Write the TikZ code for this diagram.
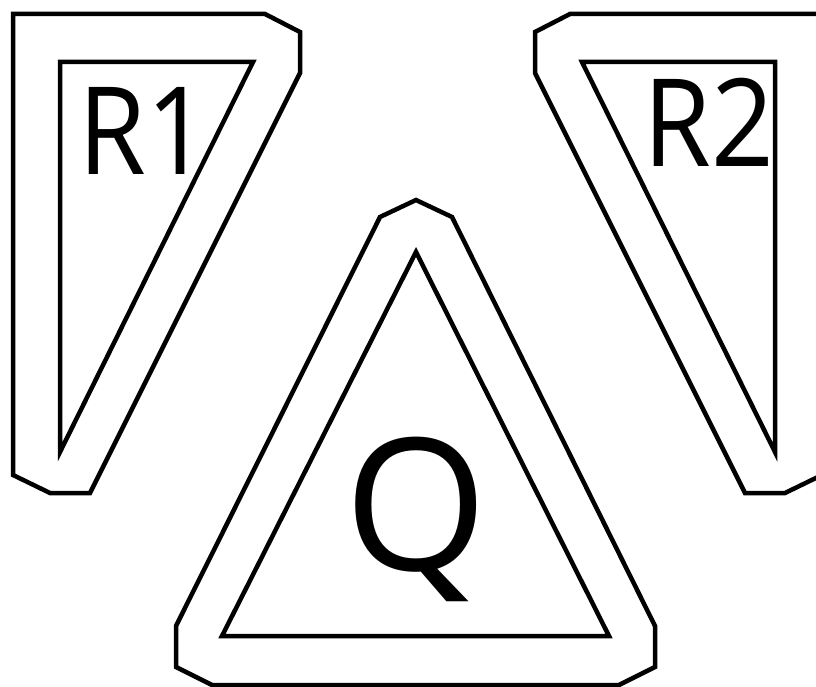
\documentclass[tikz,border=0pt]{standalone}
\usepackage{fontspec}
\setmainfont{Open Sans}
\begin{document}
\begin{tikzpicture}[x=1pt,y=-1pt,
  shapeline/.style={draw=black,line width=4.5pt,line join=miter},
  lbl/.style={inner sep=0pt,anchor=base,text=black}]
\useasboundingbox (0,0) rectangle (816,687);
\clip (0,0) rectangle (816,687);
% R1
\draw[shapeline] (13,14) -- (265,14) -- (300,32) -- (300,73) -- (90,493) -- (50,493) -- (13,475) -- cycle;
\draw[shapeline] (60,62) -- (253,62) -- (60,452) -- cycle;
% R2 (mirror)
\draw[shapeline] (822,14) -- (570,14) -- (535,32) -- (535,73) -- (745,493) -- (785,493) -- (822,475) -- cycle;
\draw[shapeline] (775,62) -- (582,62) -- (775,452) -- cycle;
% Q
\draw[shapeline] (416,200) -- (452,217) -- (655,626) -- (655,667) -- (619,685) -- (212,685) -- (176,667) -- (176,626) -- (380,217) -- cycle;
\draw[shapeline] (416,252) -- (609,636) -- (222,636) -- cycle;
\node[lbl,xscale=0.9,font=\fontsize{122}{122}\selectfont] (r1) at (144,175) {R1};
\node[lbl,xscale=0.9,font=\fontsize{122}{122}\selectfont] (r2) at (709,167) {R2};
\node[lbl,font=\fontsize{184}{184}\selectfont] (q) at (416,570) {Q};
\end{tikzpicture}
\end{document}
